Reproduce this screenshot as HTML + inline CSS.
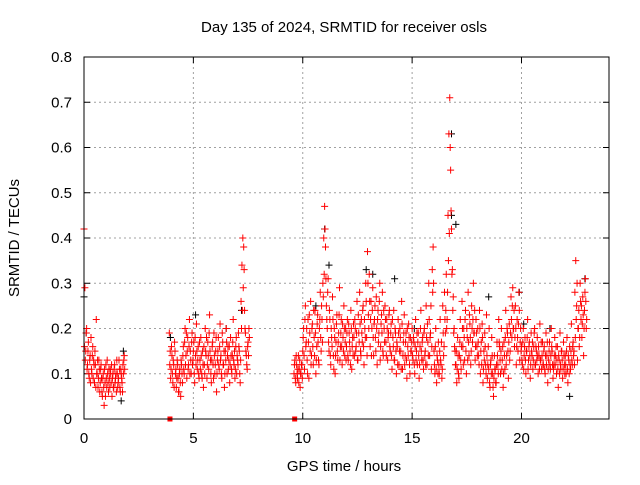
<!DOCTYPE html>
<html><head><meta charset="utf-8"><style>
body{margin:0;background:#fff}
svg{font-family:"Liberation Sans",sans-serif;font-size:15px}
</style></head><body>
<svg id="chart" width="640" height="480">
<text x="344" y="32" text-anchor="middle">Day 135 of 2024, SRMTID for receiver osls</text>
<text x="344" y="471" text-anchor="middle">GPS time / hours</text>
<text transform="translate(19,238) rotate(-90)" text-anchor="middle">SRMTID / TECUs</text>
<g id="grid"></g>
<g id="marks"></g>
<rect x="84" y="57" width="525" height="362" fill="none" stroke="#000" stroke-width="1"/>
</svg>
<script>
const xTicks=[0,5,10,15,20];
const yTicks=[0,0.1,0.2,0.3,0.4,0.5,0.6,0.7,0.8];
const yTickLabels=["0","0.1","0.2","0.3","0.4","0.5","0.6","0.7","0.8"];
const segStart=[0.0,3.9,9.6,0.02,3.92,9.62];
const segStep=0.04;
const segA=[.42,.29,.15,.2,.12,.17,.09,.14,.18,.1,.16,.13,.08,.12,.22,.1,.07,.13,.06,.11,.09,.05,.1,.03,.08,.12,.07,.1,.06,.09,.11,.08,.05,.1,.07,.12,.09,.06,.1,.08,.13,.07,.11,.09,.06,.1,.14];
const segB=[.19,.15,.11,.14,.08,.12,.17,.1,.07,.13,.09,.06,.11,.05,.12,.08,.16,.1,.2,.14,.09,.18,.12,.22,.15,.1,.19,.13,.17,.08,.14,.21,.11,.16,.09,.13,.18,.1,.15,.07,.12,.2,.14,.09,.17,.11,.23,.13,.08,.16,.12,.19,.1,.15,.06,.13,.18,.11,.21,.14,.09,.17,.12,.07,.15,.2,.1,.16,.13,.08,.18,.11,.14,.22,.12,.09,.16,.1,.13,.19,.15,.08,.26,.34,.4,.38,.24,.19,.14,.11,.17,.2];
const segC=[.1,.13,.08,.12,.09,.14,.11,.07,.1,.12,
.15,.2,.11,.25,.17,.13,.22,.09,.19,.26,.14,.21,.12,.18,.24,.1,.16,.23,.13,.2,.28,.15,.22,.3,.4,
.47,.38,.25,.2,.31,.15,.22,.12,.18,.27,.14,.2,.1,.17,.23,.13,.19,.29,.16,.22,.12,.18,.25,.14,.2,
.16,.22,.13,.19,.15,.24,.11,.18,.21,.14,.2,.16,.26,.13,.19,.28,.15,.22,.17,.25,.12,.2,.3,.18,.37,
.23,.32,.16,.26,.2,.29,.14,.22,.18,.27,.12,.24,.19,.3,.16,.23,.28,.14,.2,.25,.17,.22,.13,.19,.24,
.15,.21,.11,.18,.24,.13,.19,.1,.16,.22,.12,.2,.15,.26,.11,.17,.23,.14,.19,.09,.16,.21,.12,.18,.15,
.2,.13,.17,.1,.22,.15,.12,.19,.09,.16,.24,.13,.18,.11,.2,.15,.25,.12,.17,.3,.14,.19,.11,.33,.38,
.15,.1,.2,.08,.13,.17,.1,.22,.12,.09,.25,.14,.28,.19,.32,.22,.45,.63,.71,.55,.42,.33,.27,.2,.15,
.12,.08,.18,.1,.14,.22,.11,.26,.16,.2,.13,.24,.1,.18,.28,.14,.21,.12,.25,.17,.3,.19,.13,.22,.16,
.2,.14,.24,.1,.17,.21,.08,.15,.19,.12,.23,.09,.16,.2,.07,.13,.18,.1,.05,.14,.11,.08,.17,.12,.22,
.16,.1,.2,.13,.07,.17,.11,.24,.14,.19,.09,.21,.15,.27,.18,.29,.2,.16,.25,.12,.22,.15,.28,.13,.2,
.16,.12,.2,.14,.18,.1,.15,.22,.13,.17,.09,.19,.14,.11,.16,.2,.12,.15,.18,.1,.14,.21,.13,.11,.17,
.12,.16,.1,.19,.14,.08,.13,.17,.11,.2,.15,.09,.12,.18,.14,.1,.16,.07,.13,.19,.11,.15,.09,.17,.12,
.14,.1,.18,.08,.13,.16,.11,.21,.12,.17,.15,.28,.35,.25,.13,.2,.16,.3,.22,.18,.27,.14,.24,.31,.2];
const segA2=[.16,.13,.19,.11,.15,.1,.13,.08,.11,.14,.09,.12,.15,.07,.1,.13,.09,.11,.08,.12,.06,.09,.07,.11,.05,.09,.13,.08,.11,.07,.1,.12,.09,.07,.11,.08,.1,.13,.07,.09,.11,.06,.1,.08,.12,.13,.11];
const segB2=[.12,.09,.16,.1,.13,.07,.15,.11,.09,.12,.06,.1,.08,.13,.1,.14,.11,.17,.12,.19,.15,.11,.16,.1,.13,.17,.12,.15,.1,.18,.12,.15,.13,.1,.17,.11,.14,.09,.12,.16,.1,.15,.18,.12,.14,.19,.15,.1,.13,.17,.09,.14,.12,.18,.1,.15,.12,.16,.13,.1,.19,.12,.15,.1,.13,.17,.14,.11,.16,.12,.14,.1,.17,.13,.15,.11,.18,.14,.12,.16,.1,.13,.2,.24,.29,.33,.2,.15,.12,.16,.14,.18];
const segC2=[.12,.09,.14,.1,.11,.08,.13,.1,.12,.09,
.18,.14,.22,.16,.2,.1,.17,.23,.15,.12,.2,.16,.24,.14,.19,.13,.21,.17,.12,.22,.18,.25,.17,.27,.32,
.42,.31,.22,.28,.17,.24,.14,.2,.16,.22,.11,.18,.14,.21,.15,.17,.23,.13,.19,.16,.21,.15,.2,.17,.13,
.19,.14,.21,.17,.12,.2,.16,.14,.18,.22,.15,.19,.13,.23,.17,.21,.14,.19,.24,.16,.22,.18,.26,.14,.3,
.2,.26,.22,.14,.24,.18,.21,.25,.15,.2,.22,.17,.26,.13,.21,.19,.15,.24,.17,.22,.14,.2,.18,.23,.16,
.19,.14,.22,.16,.13,.2,.15,.17,.12,.19,.15,.18,.11,.21,.14,.19,.12,.17,.13,.2,.14,.18,.1,.15,.17,
.14,.18,.12,.16,.13,.19,.17,.14,.12,.2,.15,.17,.13,.19,.14,.12,.18,.21,.14,.22,.18,.25,.16,.28,.3,
.12,.16,.11,.14,.1,.12,.15,.13,.17,.11,.19,.16,.22,.24,.2,.28,.35,.41,.6,.46,.32,.24,.19,.16,.12,
.15,.11,.14,.09,.17,.13,.16,.2,.12,.18,.22,.15,.2,.13,.17,.23,.18,.15,.2,.22,.19,.24,.16,.19,.14,
.17,.12,.2,.15,.12,.18,.11,.13,.16,.1,.14,.12,.11,.08,.12,.1,.14,.07,.09,.11,.08,.12,.14,.1,.17,
.13,.15,.11,.16,.1,.14,.18,.12,.2,.15,.17,.13,.19,.22,.25,.2,.24,.18,.2,.16,.18,.21,.24,.17,.15,
.13,.17,.11,.16,.13,.15,.18,.11,.16,.14,.12,.15,.17,.13,.19,.12,.16,.13,.14,.16,.11,.13,.17,.14,.12,
.15,.11,.14,.12,.17,.11,.15,.12,.14,.16,.12,.11,.14,.12,.16,.13,.11,.14,.1,.12,.15,.13,.11,.14,.1,
.12,.15,.11,.14,.1,.12,.15,.13,.16,.14,.12,.18,.22,.3,.2,.24,.18,.26,.25,.21,.23,.2,.28,.26,.22];
const blackT=[0,0.1,1.8,1.7,3.95,5.1,6.5,7.2,10.6,11,11.2,12.9,13.2,14.2,15.1,16.8,16.8,17.0,18.5,19.9,20.1,21.3,22.2,22.9];
const blackV=[.27,.19,.15,.04,.18,.23,.2,.24,.25,.42,.34,.33,.32,.31,.2,.63,.45,.43,.27,.28,.21,.2,.05,.31];
const squareT=[3.93,9.63];
const squareV=[0,0];

const X0=84,X1=609,Y0=419,Y1=57;
const xs=t=>X0+t/24*(X1-X0);
const ys=v=>Y0-v/0.8*(Y0-Y1);
const NS="http://www.w3.org/2000/svg";
const grid=document.getElementById('grid');
const marks=document.getElementById('marks');
function mk(tag,at,parent){const e=document.createElementNS(NS,tag);for(const k in at)e.setAttribute(k,at[k]);parent.appendChild(e);return e;}

xTicks.forEach(t=>{
  const x=xs(t);
  if(t>0){const g=mk('line',{x1:x,y1:Y0,x2:x,y2:Y1,stroke:'#a0a0a0','stroke-dasharray':'2,3'},grid);
  
  }
  const a=mk('line',{x1:x,y1:Y0,x2:x,y2:Y0-6,stroke:'#000'},grid);
  
  
  const b=mk('line',{x1:x,y1:Y1,x2:x,y2:Y1+6,stroke:'#000'},grid);
  
  
  const l=mk('text',{x:x,y:443,'text-anchor':'middle'},grid);l.textContent=String(t);
  
  
});
yTicks.forEach((v,i)=>{
  const y=ys(v);
  if(v>0&&v<0.8){const g=mk('line',{x1:X0,y1:y,x2:X1,y2:y,stroke:'#a0a0a0','stroke-dasharray':'2,3'},grid);
  
  }
  const a=mk('line',{x1:X0,y1:y,x2:X0+6,y2:y,stroke:'#000'},grid);
  
  
  const b=mk('line',{x1:X1,y1:y,x2:X1-6,y2:y,stroke:'#000'},grid);
  
  
  const l=mk('text',{x:72,y:y+5,'text-anchor':'end'},grid);l.textContent=yTickLabels[i];
  
  
});
function cross(t,v,col,name){
  const x=xs(t),y=ys(v);
  const p=mk('path',{d:`M${x-3.5},${y}H${x+3.5}M${x},${y-3.5}V${y+3.5}`,stroke:col,'stroke-width':1,fill:'none'},marks);
  
  
}
blackT.forEach((t,i)=>cross(t,blackV[i],'#000','black-point'));
[segA,segB,segC,segA2,segB2,segC2].forEach((seg,s)=>seg.forEach((v,i)=>cross(segStart[s]+i*segStep,v,'#ff0000','red-point')));
squareT.forEach((t,i)=>{
  const r=mk('rect',{x:xs(t)-2.5,y:ys(squareV[i])-2.5,width:5,height:5,fill:'#ff0000'},marks);
  
  
});
</script>
</body></html>
